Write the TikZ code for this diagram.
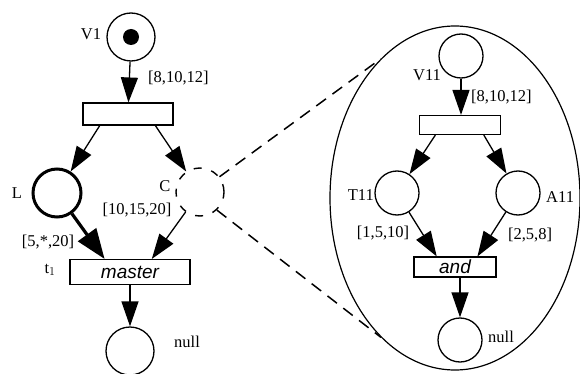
\documentclass[tikz,border=0pt]{standalone}
\usepackage{fontspec}
\setmainfont{Liberation Serif}
\newfontfamily\helv{Liberation Sans}
\usepackage{tikz}
\usetikzlibrary{positioning, arrows.meta, calc, shapes.geometric}

\begin{document}
\begin{tikzpicture}[x=1pt, y=-1pt,
    place/.style={circle, draw=black, line width=1.3pt, minimum size=48pt, inner sep=0pt},
    subplace/.style={place, minimum size=44pt},
    trans/.style={rectangle, draw=black, line width=1.1pt, inner sep=0pt},
    arc/.style={line width=1.3pt, -{Triangle[length=25pt, width=17pt]}},
    thickarc/.style={line width=3.2pt, -{Triangle[length=30pt, width=22pt]}},
    lbl/.style={font=\fontsize{16.5}{18}\selectfont, inner sep=0pt},
    tname/.style={font=\fontsize{19}{20}\selectfont\helv\itshape},
    zoomline/.style={line width=1.5pt, dash pattern=on 12pt off 8pt},
]
\useasboundingbox (0,0) rectangle (580,374);

% main net
\node[place](v1) at (131,37){};
\node[circle, fill=black, minimum size=16pt, inner sep=0pt](tok) at (v1){};
\node[lbl](v1lbl) at (91,34){V1};
\node[trans, minimum width=90pt, minimum height=22pt](t0) at (128,114){};
\node[lbl, anchor=west](w0) at (148,78){[8,10,12]};
\node[place, line width=3pt](l) at (57,193){};
\node[lbl](llbl) at (17,193){L};
\node[place, line width=1.4pt, dash pattern=on 8pt off 10pt](c) at (200,192){};
\node[lbl](clbl) at (165,186){C};
\node[trans, minimum width=120pt, minimum height=25pt, tname](master) at (130,272){master};
\node[lbl](t1lbl) at (50,270){t$_1$};
\node[lbl](wl) at (48,242){[5,*,20]};
\node[lbl](wc) at (137,210){[10,15,20]};
\node[place](null1) at (130,351){};
\node[lbl, anchor=west](n1lbl) at (174,342){null};

\draw[arc] (v1) -- (t0);
\draw[arc] ($(t0.south west)!0.19!(t0.south east)$) -- (l);
\draw[arc] ($(t0.south west)!0.8!(t0.south east)$) -- (c);
\draw[thickarc] (l) -- ($(master.north west)!0.29!(master.north east)$);
\draw[arc] (c) -- ($(master.north west)!0.68!(master.north east)$);
\draw[arc] (master) -- (null1);

% refinement of C
\node[ellipse, draw=black, line width=1.2pt, minimum width=250pt, minimum height=344pt, inner sep=0pt](zoom) at (455,198){};
\draw[zoomline] (c.38) -- (zoom.118);
\draw[zoomline] (c.313) -- (zoom.242);

\node[subplace](v11) at (461,56){};
\node[lbl](v11lbl) at (427,75){V11};
\node[trans, minimum width=81pt, minimum height=19pt](t11) at (460,125){};
\node[lbl, anchor=west](w11) at (471,97){[8,10,12]};
\node[subplace](tp) at (397,193){};
\node[lbl, anchor=east](tplbl) at (374,195){T11};
\node[subplace](ap) at (518,193){};
\node[lbl, anchor=west](aplbl) at (546,197){A11};
\node[lbl](wt) at (383,233){[1,5,10]};
\node[lbl](wa) at (530,235){[2,5,8]};
\node[trans, minimum width=82pt, minimum height=20pt, tname](andt) at (455,267){and};
\node[subplace](null2) at (460,340){};
\node[lbl, anchor=west](n2lbl) at (488,337){null};

\draw[arc] (v11) -- (v11 |- t11.north);
\draw[arc] ($(t11.south west)!0.2!(t11.south east)$) -- (tp);
\draw[arc] ($(t11.south west)!0.79!(t11.south east)$) -- (ap);
\draw[arc] (tp) -- ($(andt.north west)!0.28!(andt.north east)$);
\draw[arc] (ap) -- ($(andt.north west)!0.77!(andt.north east)$);
\draw[arc] (andt.south -| null2) -- (null2);
\end{tikzpicture}
\end{document}
